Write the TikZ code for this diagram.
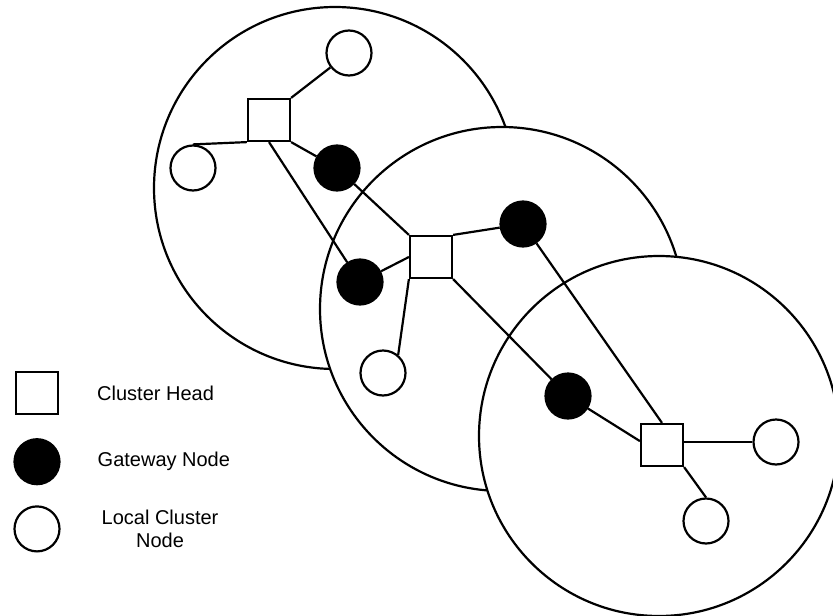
\documentclass[tikz,border=0pt]{standalone}
\usepackage{fontspec}
\setmainfont{Liberation Sans}
\usetikzlibrary{positioning}

\begin{document}
\begin{tikzpicture}[x=1pt, y=-1pt, line width=2.2pt,
        rangecircle/.style={draw, fill=white},
        headnode/.style={rectangle, draw, fill=white, minimum size=42pt, inner sep=0pt},
        gatenode/.style={circle, draw, fill=black, minimum size=45pt, inner sep=0pt},
        localnode/.style={circle, draw, fill=white, minimum size=45pt, inner sep=0pt},
        keytext/.style={font=\fontsize{20}{23}\selectfont, align=center, inner sep=0pt},
        ]
        \useasboundingbox (0,0) rectangle (833,616);

        %Cluster ranges
        \draw[rangecircle] (335,188) circle [radius=181pt];
        \draw[rangecircle] (502,309) circle [radius=182pt];
        \draw[rangecircle] (659,436) circle [radius=180pt];

        %Nodes
        \node[headnode]   (head1)  at (269,120) {};
        \node[localnode]  (local1) at (349,53)  {};
        \node[localnode]  (local2) at (193,168) {};
        \node[gatenode]   (gate1)  at (337,168) {};
        \node[gatenode]   (gate2)  at (360,282) {};

        \node[headnode]   (head2)  at (431,257) {};
        \node[gatenode]   (gate3)  at (523,224) {};
        \node[localnode]  (local3) at (383,373) {};
        \node[gatenode]   (gate4)  at (568,396) {};

        \node[headnode]   (head3)  at (662,445) {};
        \node[localnode]  (local4) at (776,442) {};
        \node[localnode]  (local5) at (706,521) {};

        %Lines
        \draw (head1.north east) -- (local1);
        \draw (head1.south west) -- (local2.north);
        \draw (head1.south) -- (gate2);
        \draw (head1.south east) -- (gate1);
        \draw (gate1) -- (head2.north west);
        \draw (gate2) -- (head2.west);
        \draw (head2.north east) -- (gate3);
        \draw (head2.south west) -- (local3.50);
        \draw (head2.south east) -- (gate4);
        \draw (gate3) -- (head3.north);
        \draw (gate4) -- (head3.170);
        \draw (head3.east |- local4) -- (local4.west);
        \draw (head3.south east) -- (local5.north);

        %Key
        \node[headnode]   (keyhead)                            at (37,393) {};
        \node[gatenode]   (keygate)  [below=23pt of keyhead]              {};
        \node[localnode]  (keylocal) [below=20pt of keygate]              {};
        \node[keytext]    (headtext)  [right=37pt of keyhead]  {Cluster Head};
        \node[keytext]    (gatetext)  [right=36pt of keygate]  {Gateway Node};
        \node[keytext]    (localtext) [right=40pt of keylocal] {Local Cluster\\Node};
\end{tikzpicture}
\end{document}
